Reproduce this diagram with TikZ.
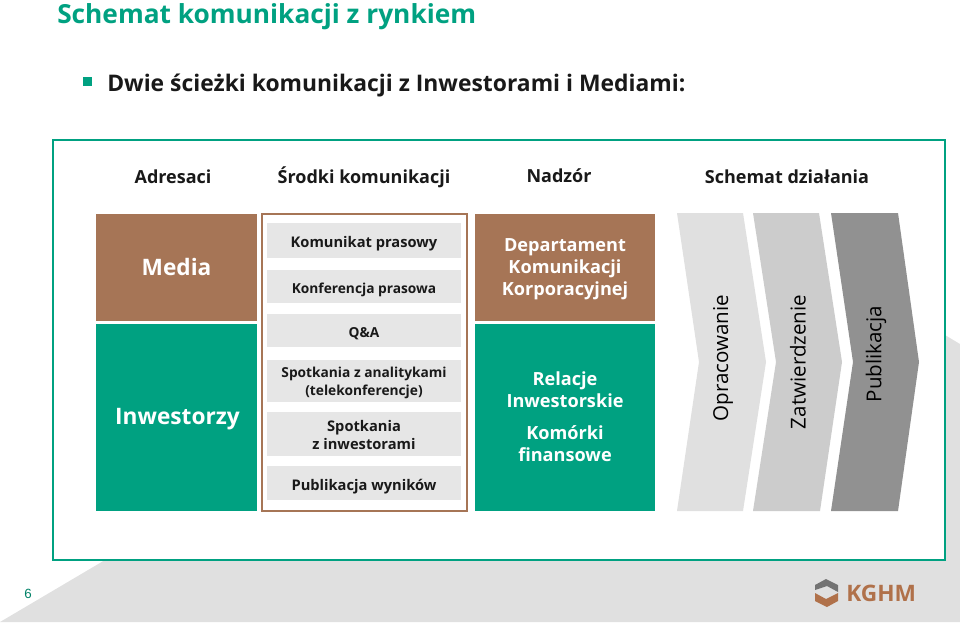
\documentclass[tikz,border=0pt]{standalone}
\usepackage{fontspec}
\setmainfont{Open Sans}
\newfontfamily\arialfont{Liberation Sans}
\usepackage{xcolor}
\usetikzlibrary{positioning, calc}
\definecolor{kghmgreen}{HTML}{00A181}
\definecolor{kghmbrown}{HTML}{A67556}
\definecolor{kghmlogo}{HTML}{B0714A}
\definecolor{itemgray}{HTML}{E6E6E6}
\definecolor{backgray}{HTML}{E0E0E0}
\begin{document}
\begin{tikzpicture}[
  x=0.75pt, y=-0.75pt,
  header/.style={font=\fontsize{13.5}{16}\selectfont\bfseries, text=black!90},
  itemtext/.style={midway, inner sep=0pt, align=center, text=black!90},
  paneltext/.style={align=center, text=white, font=\fontsize{13.6}{16.5}\selectfont\bfseries},
  bigtext/.style={text=white, font=\fontsize{17}{20}\selectfont\bfseries},
  steptext/.style={rotate=90, font=\fontsize{15.4}{18}\selectfont, text=black},
]
\useasboundingbox (0,0) rectangle (960,622);
% background and frame
\fill[backgray] (0,622) -- (105,560) -- (945,560) -- (945,335) -- (960,344) -- (960,622) -- cycle;
\draw[kghmgreen, line width=0.9pt, fill=white] (53,140) rectangle (945,560);

\node[anchor=west, inner sep=0pt, text=kghmgreen, font=\fontsize{19.7}{24}\selectfont\bfseries] (title) at (57,17) {Schemat komunikacji z rynkiem};
\fill[kghmgreen] (83,77) rectangle (92,86);
\node[anchor=west, inner sep=0pt, font=\fontsize{17.15}{20}\selectfont\bfseries, text=black!90] (lead) at (107,85) {Dwie ścieżki komunikacji z Inwestorami i Mediami:};

\node[header] (hAdresaci) at (173,177) {Adresaci};
\node[header] (hSrodki)   at (364,177) {Środki komunikacji};
\node[header] (hNadzor)   at (559,176) {Nadzór};
\node[header] (hSchemat)  at (787,177) {Schemat działania};

% left column
\fill[kghmbrown] (96,214) rectangle (257,321);
\fill[kghmgreen] (96,324) rectangle (257,511);
\node[bigtext] (media) at (176.5,267) {Media};
\node[bigtext] (inwestorzy) at (177.5,419) {Inwestorzy};

% middle column
\draw[kghmbrown, line width=0.9pt, fill=white] (262,214) rectangle (467,511);
\foreach \name/\top/\bot/\fs/\dy/\txt in {
  komunikat/223/258/11/-2.2/{Komunikat prasowy},
  konferencja/270/303/10.3/-2.2/{Konferencja prasowa},
  qa/314/347/10.3/-2.2/{Q\&A},
  analitycy/360/402/10.3/-1.8/{Spotkania z analitykami\\(telekonferencje)},
  spotkania/412/456/11/-0.6/{Spotkania\\z inwestorami},
  wyniki/466/500/11/-2.8/{Publikacja wyników}}
  \fill[itemgray] (267,\top) rectangle (461,\bot)
    node[itemtext, yshift=\dy pt, font=\fontsize{\fs}{13.5}\selectfont\bfseries] (\name) {\txt};

% right column
\fill[kghmbrown] (475,214) rectangle (655,321);
\fill[kghmgreen] (475,324) rectangle (655,511);
\node[paneltext] (dkk) at (565,269) {Departament\\Komunikacji\\Korporacyjnej};
\node[paneltext] (ri)  at (565,390) {Relacje\\Inwestorskie};
\node[paneltext] (kf)  at (565,444) {Komórki\\finansowe};

% chevrons
\fill[backgray] (677,213) -- (743,213) -- (766,362) -- (743,511) -- (677,511) -- (699,362) -- cycle;
\fill[black!20!white] (753,213) -- (819,213) -- (842,362) -- (820,511) -- (753,511) -- (776,362) -- cycle;
\fill[black!43!white] (831,213) -- (898,213) -- (919,362) -- (898,511) -- (831,511) -- (853,362) -- cycle;
\node[steptext] (opracowanie)   at (723,358) {Opracowanie};
\node[steptext] (zatwierdzenie) at (798,362) {Zatwierdzenie};
\node[steptext] (publikacja)    at (876,354) {Publikacja};

% footer
\node[inner sep=0pt, text=kghmgreen!80!black, font=\arialfont\fontsize{10}{12}\selectfont] (pagenum) at (28,594) {6};
\fill[black!55!white] (815,590) -- (815,585) -- (826,579) -- (838,585) -- (838,592) -- (827,586) -- cycle;
\fill[kghmlogo] (815,593) -- (826,599) -- (838,593) -- (838,601) -- (827,607) -- (815,601) -- cycle;
\node[anchor=west, inner sep=0pt, text=kghmlogo, font=\fontsize{17}{18}\selectfont\bfseries] (logo) at (846,593) {KGHM};
\end{tikzpicture}
\end{document}
